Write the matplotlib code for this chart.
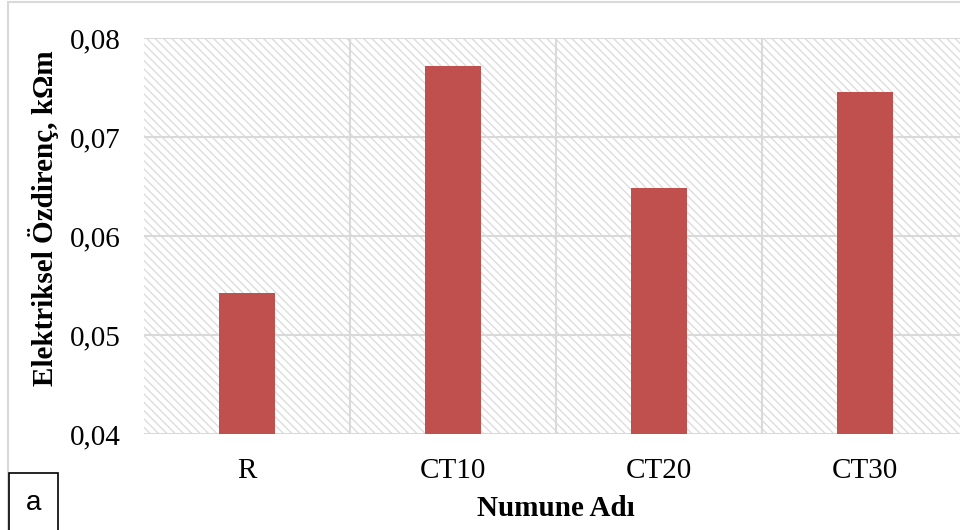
import matplotlib.pyplot as plt
from matplotlib.patches import Rectangle
from matplotlib.ticker import FixedLocator, FuncFormatter

samples = ['R', 'CT10', 'CT20', 'CT30']
resistivity = [0.0542, 0.0772, 0.0648, 0.0745]
yticks = [0.04, 0.05, 0.06, 0.07, 0.08]

plt.rcParams['font.family'] = ['Liberation Serif', 'DejaVu Serif']
plt.rcParams['hatch.color'] = '#dcdcdc'
plt.rcParams['hatch.linewidth'] = 1.0

W, H = 960, 530
fig = plt.figure(figsize=(9.6, 5.3), dpi=100)
ax = fig.add_axes([144 / W, 1 - 434 / H, (968 - 144) / W, (434 - 38) / H])

# hatched background of the plot area
bg = Rectangle((0, 0), 1, 1, transform=ax.transAxes, facecolor='white',
               edgecolor='#dcdcdc', hatch='\\\\\\\\', linewidth=0, zorder=0)
ax.add_patch(bg)

x = range(len(samples))
ax.bar(x, resistivity, width=0.27, color='#C0504D', zorder=3)

ax.set_xlim(-0.5, 3.5)
ax.set_ylim(0.04, 0.08)
ax.set_yticks(yticks)
ax.yaxis.set_major_formatter(FuncFormatter(lambda v, p: f'{v:.2f}'.replace('.', ',')))
ax.set_xticks(list(x))
ax.set_xticklabels(samples)
ax.xaxis.set_minor_locator(FixedLocator([0.5, 1.5, 2.5]))

ax.grid(axis='y', which='major', color='#d9d9d9', linewidth=1.5, zorder=1)
ax.grid(axis='x', which='minor', color='#d9d9d9', linewidth=1.5, zorder=1)
ax.tick_params(axis='both', which='both', length=0, labelsize=21)
ax.tick_params(axis='y', pad=17)
ax.tick_params(axis='x', pad=17)
for s in ax.spines.values():
    s.set_visible(False)

ax.set_ylabel('Elektriksel Özdirenç, kΩm', fontsize=21, fontweight='bold')
ax.yaxis.set_label_coords(-0.103, 0.545)
ax.set_xlabel('Numune Adı', fontsize=21, fontweight='bold', labelpad=8)

# outer chart frame and panel label
fig.add_artist(Rectangle((8 / W, -0.1), 1.1, 1 - 1.5 / H + 0.1, transform=fig.transFigure,
                         fill=False, edgecolor='#d9d9d9', linewidth=1.5))
fig.add_artist(Rectangle((9 / W, -0.05), 49 / W, (57 / H) + 0.05, transform=fig.transFigure,
                         facecolor='white', edgecolor='black', linewidth=1.2))
fig.text(33.5 / W, 1 - 503 / H, 'a', fontsize=20, family='Liberation Sans',
         ha='center', va='center')

fig.savefig('out.png', dpi=100)
